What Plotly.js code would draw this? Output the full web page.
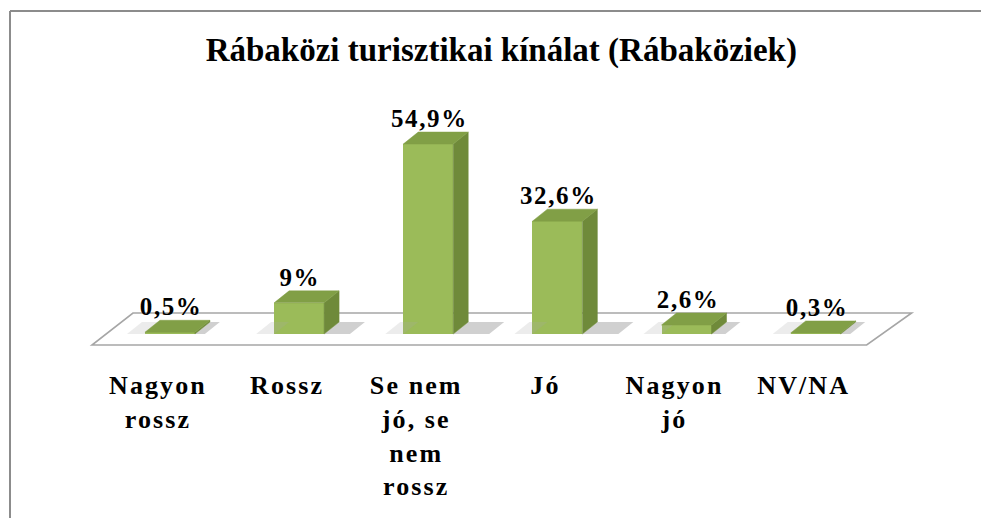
<!DOCTYPE html>
<html>
<head>
<meta charset="utf-8">
<script src="https://cdn.plot.ly/plotly-3.0.1.min.js"></script>
<style>
  html, body { margin: 0; padding: 0; background: #ffffff; }
  #chart { width: 981px; height: 518px; }
  #chart .xtick text { letter-spacing: 2.1px; }
  #chart .annotation-text { letter-spacing: 1.6px; }
</style>
</head>
<body>
<div id="chart"></div>
<script>
// ---- data ----
const categories = ['Nagyon rossz', 'Rossz', 'Se nem jó, se nem rossz', 'Jó', 'Nagyon jó', 'NV/NA'];
const tickLabels = ['Nagyon<br>rossz', 'Rossz', 'Se nem<br>jó, se<br>nem<br>rossz', 'Jó', 'Nagyon<br>jó', 'NV/NA'];
const values = [0.5, 9, 54.9, 32.6, 2.6, 0.3];
const chartTitle = 'Rábaközi turisztikai kínálat (Rábaköziek)';

// ---- style / geometry ----
const W = 981, H = 518;
const unitX = 129.2;            // px per category
const unitY = 3.46;             // px per percent
const zeroPx = 334;             // pixel row of value 0
const xr = [-0.65, 5.8];
const plotTop = 100, plotBottom = 350;
const left = Math.round(170 + xr[0] * unitX);
const right = Math.round(left + (xr[1] - xr[0]) * unitX);
const yr = [-(plotBottom - zeroPx) / unitY, (zeroPx - plotTop) / unitY];

const barW = 50 / unitX;        // front face width
const dx = 15 / unitX;          // depth offset in x
const dy = 12 / unitY;          // depth offset in y

const xs = categories.map((c, i) => i);

// side faces, top faces and floor shadows computed from values
const sideX = [], sideY = [], topX = [], topY = [];
const shX = [], shY = [], sh2X = [], sh2Y = [];
xs.forEach((i, k) => {
  const v = values[k];
  const r = i + barW / 2, l = i - barW / 2;
  sideX.push(r, r + dx, r + dx, r, r, null);
  sideY.push(0, dy, v + dy, v, 0, null);
  topX.push(l, r, r + dx, l + dx, l, null);
  topY.push(v, v, v + dy, v + dy, v, null);
  const ext = Math.min(2.4, 0.6 + v / 8);
  shX.push(r, r + dx * ext, r + dx * (ext + 1), r + dx, r, null);
  shY.push(0, 0, dy, dy, 0, null);
  sh2X.push(l - dx * 1.2, l, l + dx, l - dx * 0.2, l - dx * 1.2, null);
  sh2Y.push(0, 0, dy, dy, 0, null);
});

const fmt = v => String(v).replace('.', ',') + '%';
const serif = 'Liberation Serif';
const tickFont = { family: serif, size: 26, color: '#000000', weight: 'bold' };
const labelFont = { family: serif, size: 25, color: '#000000', weight: 'bold' };

const traces = [
  { type: 'scatter', x: shX, y: shY, mode: 'lines', fill: 'toself', fillcolor: 'rgba(150,150,150,0.45)',
    line: { width: 0, color: 'rgba(0,0,0,0)' }, hoverinfo: 'skip', showlegend: false },
  { type: 'scatter', x: sh2X, y: sh2Y, mode: 'lines', fill: 'toself', fillcolor: 'rgba(170,170,170,0.22)',
    line: { width: 0, color: 'rgba(0,0,0,0)' }, hoverinfo: 'skip', showlegend: false },
  { type: 'bar', x: xs, y: values, width: barW, marker: { color: '#9BBB59', line: { width: 0 } },
    showlegend: false, hoverinfo: 'x+y' },
  { type: 'scatter', x: sideX, y: sideY, mode: 'lines', fill: 'toself', fillcolor: '#6F8A3A',
    line: { width: 0.5, color: '#6F8A3A' }, hoverinfo: 'skip', showlegend: false },
  { type: 'scatter', x: topX, y: topY, mode: 'lines', fill: 'toself', fillcolor: '#819F46',
    line: { width: 0.5, color: '#819F46' }, hoverinfo: 'skip', showlegend: false }
];

// floor parallelogram (decoration) in data units
const floorFrontY = (zeroPx - 345) / unitY;
const floorBackY = (zeroPx - 313) / unitY;
const fx = px => (px - 170) / unitX;
const floorPath = 'M ' + fx(92) + ',' + floorFrontY + ' L ' + fx(867) + ',' + floorFrontY +
  ' L ' + fx(912) + ',' + floorBackY + ' L ' + fx(133) + ',' + floorBackY + ' Z';

const annotations = xs.map((i, k) => ({
  x: i, y: values[k] + dy, xref: 'x', yref: 'y', text: fmt(values[k]),
  showarrow: false, yanchor: 'bottom', xanchor: 'center', xshift: 1, yshift: -2, font: labelFont
}));

const layout = {
  width: W, height: H,
  margin: { l: left, r: W - right, t: plotTop, b: H - plotBottom, pad: 0 },
  paper_bgcolor: '#ffffff', plot_bgcolor: 'rgba(0,0,0,0)',
  font: { family: serif },
  title: { text: chartTitle, x: 0.511, xanchor: 'center', y: 1 - 61 / H, yanchor: 'bottom', yref: 'container',
    font: { family: serif, size: 33, color: '#000000', weight: 'bold' } },
  xaxis: { range: xr, tickvals: xs, ticktext: tickLabels, showgrid: false, zeroline: false, showline: false,
    ticks: '', ticklabelshift: -12, ticklabelstandoff: 17, tickfont: tickFont, fixedrange: true },
  yaxis: { range: yr, visible: false, showgrid: false, zeroline: false, fixedrange: true },
  shapes: [
    { type: 'path', path: floorPath, xref: 'x', yref: 'y', layer: 'below',
      fillcolor: '#ffffff', line: { color: '#A6A6A6', width: 1.6 } },
    { type: 'line', xref: 'paper', yref: 'paper', layer: 'above',
      x0: (10 - left) / (right - left), x1: (10 - left) / (right - left),
      y0: 1 + (plotTop - 11) / (plotBottom - plotTop), y1: -(H - plotBottom + 5) / (plotBottom - plotTop),
      line: { color: '#8C8C8C', width: 2 } },
    { type: 'line', xref: 'paper', yref: 'paper', layer: 'above',
      x0: (10 - left) / (right - left), x1: (W + 5 - left) / (right - left),
      y0: 1 + (plotTop - 11) / (plotBottom - plotTop), y1: 1 + (plotTop - 11) / (plotBottom - plotTop),
      line: { color: '#8C8C8C', width: 2 } }
  ],
  annotations: annotations,
  showlegend: false,
  bargap: 0
};

Plotly.newPlot('chart', traces, layout, { displayModeBar: false, staticPlot: true });
</script>
</body>
</html>
